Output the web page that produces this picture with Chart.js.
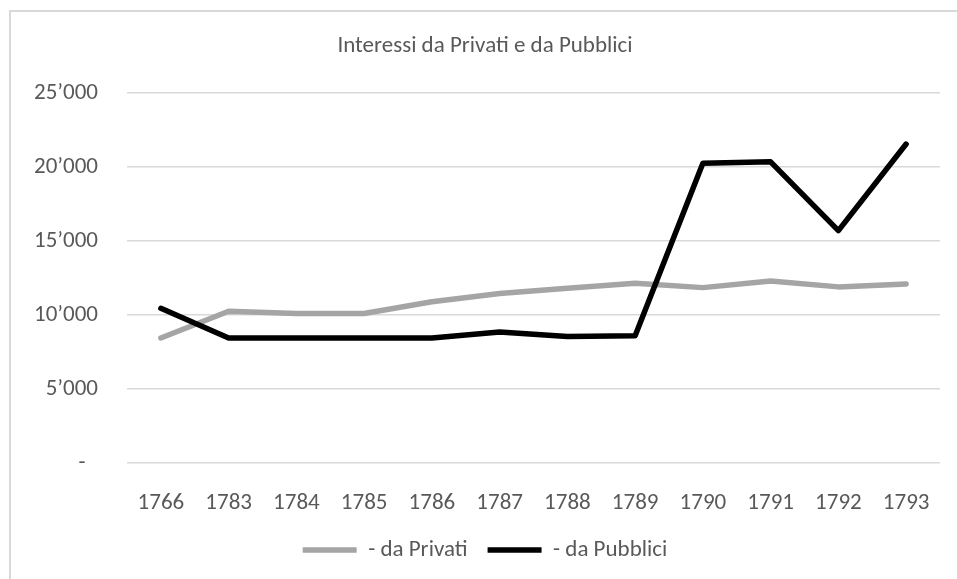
<!DOCTYPE html>
<html>
<head>
<meta charset="utf-8">
<script src="https://cdn.jsdelivr.net/npm/chart.js@4/dist/chart.umd.min.js"></script>
<style>
  body { margin: 0; background: #fff; }
  #wrap { position: relative; width: 957px; height: 579px; overflow: hidden; }
  #frame {
    position: absolute; left: 9px; top: 10px; width: 960px; height: 580px;
    border-top: 2px solid #d9d9d9; border-left: 2px solid #d9d9d9;
  }
  canvas { position: absolute; left: 0; top: 0; }
</style>
</head>
<body>
<div id="wrap">
  <div id="frame"></div>
  <canvas id="grafico" width="957" height="579"></canvas>
</div>
<script>
const anni = ["1766", "1783", "1784", "1785", "1786", "1787", "1788", "1789", "1790", "1791", "1792", "1793"];
const daPrivati = [8450, 10250, 10100, 10100, 10900, 11450, 11800, 12150, 11850, 12300, 11900, 12100];
const daPubblici = [10450, 8450, 8450, 8450, 8450, 8850, 8550, 8600, 20250, 20350, 15700, 21550];
const tickValori = [0, 5000, 10000, 15000, 20000, 25000];

const font = "Carlito, Calibri, Lato, sans-serif";
const grigio = "#595959";

function formatta(v) {
  if (v === 0) return "-\u2007";
  return String(Math.round(v)).replace(/\B(?=(\d{3})+(?!\d))/g, "\u2019");
}

const ctx = document.getElementById("grafico").getContext("2d");

new Chart(ctx, {
  type: "line",
  data: {
    labels: anni,
    datasets: [
      {
        label: "- da Privati",
        data: daPrivati,
        borderColor: "#a5a5a5",
        backgroundColor: "#a5a5a5",
        borderWidth: 5.5,
        borderCapStyle: "round",
        borderJoinStyle: "round",
        pointRadius: 0,
        tension: 0,
        order: 1
      },
      {
        label: "- da Pubblici",
        data: daPubblici,
        borderColor: "#000000",
        backgroundColor: "#000000",
        borderWidth: 5.5,
        borderCapStyle: "round",
        borderJoinStyle: "round",
        pointRadius: 0,
        tension: 0,
        order: 0
      }
    ]
  },
  options: {
    responsive: false,
    animation: false,
    layout: { padding: { left: 30, right: 17, top: 0, bottom: 7.5 } },
    plugins: {
      tooltip: { enabled: false },
      title: {
        display: true,
        text: "Interessi da Privati e da Pubblici",
        color: grigio,
        font: { family: font, size: 23, weight: "normal" },
        padding: { top: 32, bottom: 33.4 }
      },
      legend: {
        position: "bottom",
        labels: {
          color: grigio,
          font: { family: font, size: 23 },
          usePointStyle: true,
          pointStyle: "line",
          pointStyleWidth: 54,
          padding: 20,
          sort: (a, b) => a.datasetIndex - b.datasetIndex
        }
      }
    },
    scales: {
      x: {
        offset: true,
        grid: { display: false },
        border: { display: false },
        ticks: {
          color: grigio,
          font: { family: font, size: 23 },
          padding: 18,
          maxRotation: 0
        },
        afterFit: (scale) => { scale.height = 55.5; }
      },
      y: {
        min: 0,
        max: 25000,
        afterBuildTicks: (scale) => { scale.ticks = tickValori.map((v) => ({ value: v })); },
        grid: { color: "#d9d9d9", lineWidth: 1.5, drawTicks: false },
        border: { display: false },
        ticks: {
          color: grigio,
          font: { family: font, size: 23 },
          padding: 29,
          callback: (v) => formatta(v)
        },
        afterFit: (scale) => { scale.width = 97; }
      }
    }
  }
});
</script>
</body>
</html>
